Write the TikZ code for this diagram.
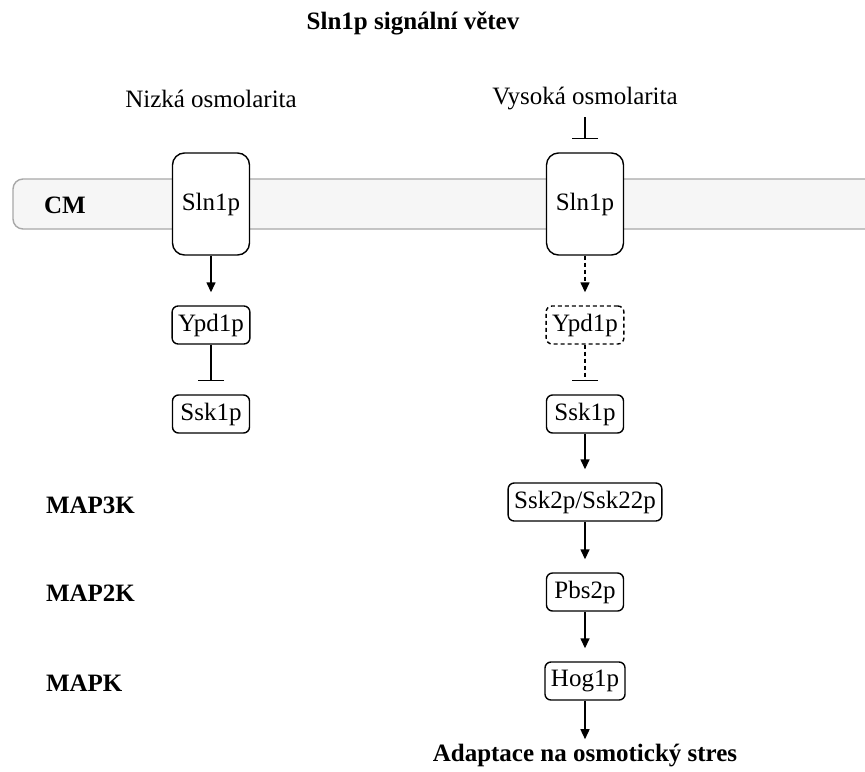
\documentclass[tikz,border=0pt]{standalone}
\usepackage{fontspec}
\setmainfont{Liberation Serif}
\usetikzlibrary{arrows.meta}
\newcommand{\diagfont}{\fontsize{12.5}{15}\selectfont}
\definecolor{membranegray}{HTML}{F6F6F6}
\definecolor{membraneline}{HTML}{A8A8A8}
\tikzset{
	protein/.style= {
		draw, fill=white,
		rounded corners=3pt,
		minimum width=38.5pt, minimum height=19pt,
		inner sep=3pt, line width=0.7pt
	},
	receptor/.style= {protein, rounded corners=6pt, minimum height=51pt},
	faded/.style= {dash pattern=on 2pt off 1.5pt},
	act/.style= {-{Triangle[width=4.5pt,length=5pt]}, line width=0.7pt, shorten >=6.5pt},
	inh/.style= {-{Bar[width=13pt]}, line width=0.7pt, shorten >=6.5pt},
	lab/.style= {font=\diagfont\bfseries, anchor=west},
	membrane/.style= {draw=membraneline, fill=membranegray, line width=0.7pt, rounded corners=5pt}
}

\begin{document}
\begin{tikzpicture}[x=0.5pt,y=-0.5pt, every node/.append style={font=\diagfont}]
\useasboundingbox (0,0) rectangle (865,771);

% membrane
\draw[membrane] (870,179) -- (13,179) -- (13,229) -- (870,229);
\node[lab] (cm) at (37,205) {CM};

% titles
\node[lab, anchor=center] (title) at (413,23) {Sln1p signální větev};
\node (nizka) at (211,99) {Nizká osmolarita};
\node (vysoka) at (585,99) {Vysoká osmolarita};

% low osmolarity
\node[receptor] (slnL) at (211,204) {Sln1p};
\node[protein] (ypdL) at (211,325) {Ypd1p};
\node[protein] (sskL) at (211,414) {Ssk1p};

% high osmolarity
\node[receptor] (slnR) at (585,204) {Sln1p};
\node[protein, faded] (ypdR) at (585,325) {Ypd1p};
\node[protein] (sskR) at (585,414) {Ssk1p};
\node[protein] (ssk2) at (585,502) {Ssk2p/Ssk22p};
\node[protein] (pbs) at (585,592) {Pbs2p};
\node[protein] (hog) at (585,681) {Hog1p};
\node[lab, anchor=center, inner sep=0pt] (adapt) at (585,755) {Adaptace na osmotický stres};

% kinase levels
\node[lab] (map3k) at (39,505) {MAP3K};
\node[lab] (map2k) at (39,593) {MAP2K};
\node[lab] (mapk) at (39,683) {MAPK};

% connectors
\draw[act] (slnL) -- (ypdL);
\draw[inh] (ypdL) -- (sskL);
\draw[inh] (vysoka) -- (slnR);
\draw[act, faded] (slnR) -- (ypdR);
\draw[inh, faded] (ypdR) -- (sskR);
\draw[act] (sskR) -- (ssk2);
\draw[act] (ssk2) -- (pbs);
\draw[act] (pbs) -- (hog);
\draw[act, shorten >=2pt] (hog) -- (adapt);
\end{tikzpicture}
\end{document}
